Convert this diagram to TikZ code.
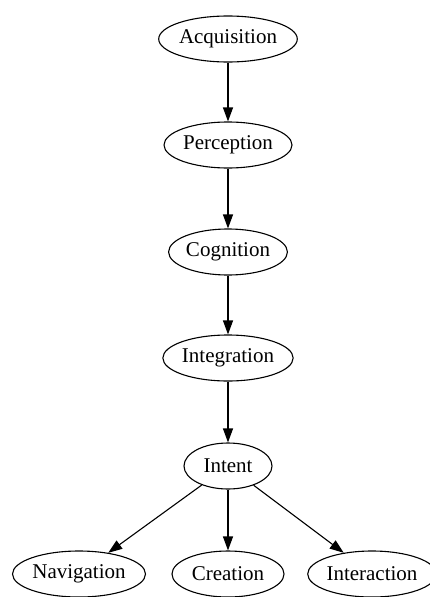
\documentclass[tikz,border=0pt]{standalone}
\usepackage{fontspec}
\setmainfont{Liberation Serif}
\usetikzlibrary{shapes.geometric,arrows.meta}
\begin{document}
\begin{tikzpicture}[x=1pt,y=-1pt,
  st/.style={ellipse,draw,line width=1.1pt,inner sep=0pt,minimum height=46pt,font=\fontsize{21}{24}\selectfont},
  ar/.style={line width=1.1pt,-{Triangle[length=14pt,width=10pt]}}]
\useasboundingbox (0,0) rectangle (430,597);
\node[st,minimum width=137pt] (acq) at (228,39) {Acquisition};
\node[st,minimum width=128pt] (per) at (228,145) {Perception};
\node[st,minimum width=118pt] (cog) at (228,252) {Cognition};
\node[st,minimum width=129pt] (int) at (228,358) {Integration};
\node[st,minimum width=88pt] (ite) at (228,466) {Intent};
\node[st,minimum width=133pt] (nav) at (79,574) {Navigation};
\node[st,minimum width=112pt] (cre) at (228,574) {Creation};
\node[st,minimum width=124pt] (ira) at (372,574) {Interaction};
\draw[ar] (acq) -- (per);
\draw[ar] (per) -- (cog);
\draw[ar] (cog) -- (int);
\draw[ar] (int) -- (ite);
\draw[ar] (ite) -- (nav);
\draw[ar] (ite) -- (cre);
\draw[ar] (ite) -- (ira);
\end{tikzpicture}
\end{document}
